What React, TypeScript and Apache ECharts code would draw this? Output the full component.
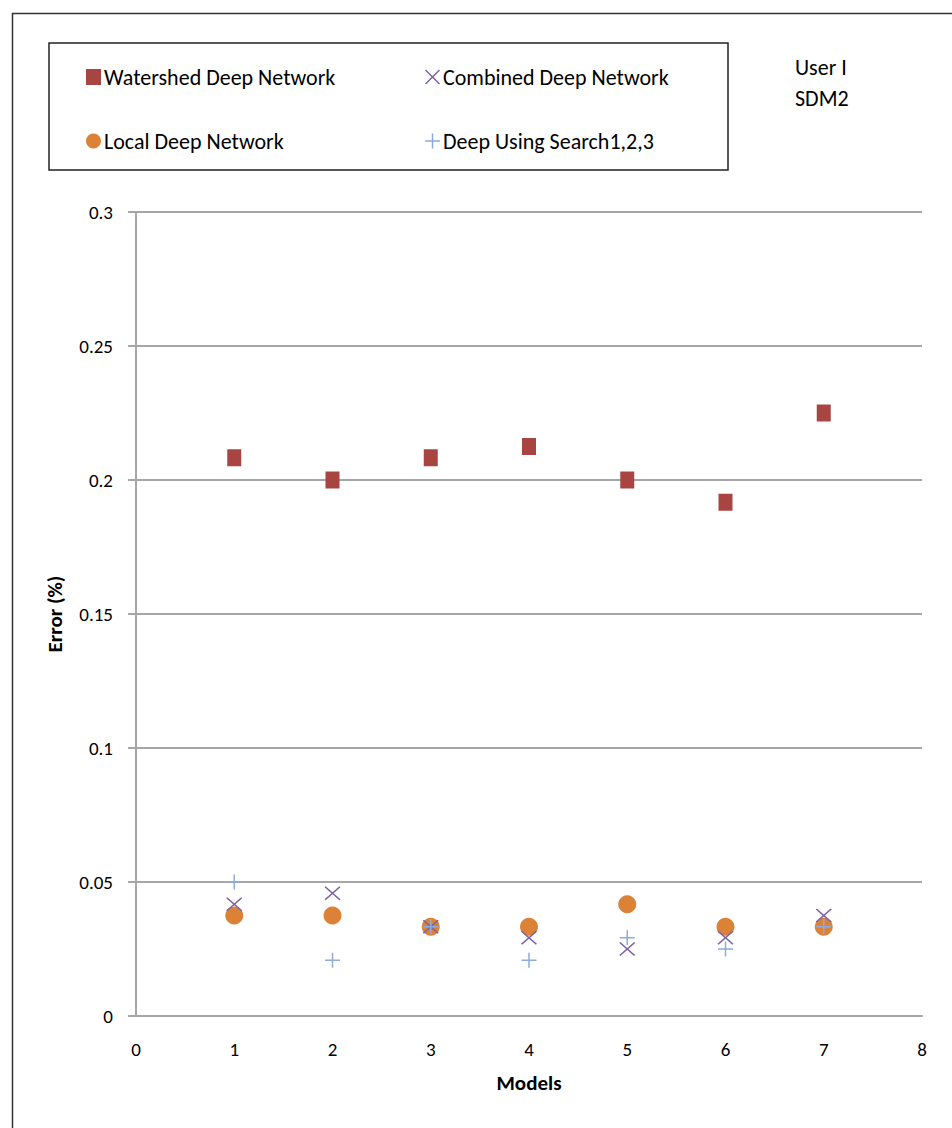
import React, { useEffect, useRef } from "react";
import * as echarts from "echarts";

const models = [1, 2, 3, 4, 5, 6, 7];
const watershed = [0.2083, 0.2, 0.2083, 0.2125, 0.2, 0.1917, 0.225];
const combined = [0.0417, 0.0458, 0.0333, 0.0292, 0.025, 0.0292, 0.0375];
const local = [0.0375, 0.0375, 0.0333, 0.0333, 0.0417, 0.0333, 0.0333];
const search = [0.05, 0.0208, 0.0333, 0.0208, 0.0292, 0.025, 0.0333];

const xTicks = { min: 0, max: 8, interval: 1 };
const yTicks = { min: 0, max: 0.3, interval: 0.05 };

const FONT = "Carlito, Lato, sans-serif";
const X_PATH =
  "path://M0,7L7,0L50,43L93,0L100,7L57,50L100,93L93,100L50,57L7,100L0,93L43,50Z";
const PLUS_PATH =
  "path://M45,0L55,0L55,45L100,45L100,55L55,55L55,100L45,100L45,55L0,55L0,45L45,45Z";

const pairs = (ys: number[]) => models.map((m, i) => [m, ys[i]]);

export default function App() {
  const ref = useRef<HTMLDivElement>(null);
  useEffect(() => {
    if (!ref.current) return;
    const chart = echarts.init(ref.current, null, { renderer: "svg" });
    const gridColor = "#a6a6a6";
    const legendText = {
      fontFamily: FONT,
      fontSize: 22,
      lineHeight: 16,
      color: "#000",
      padding: [0, 0, 0, -2],
    };
    chart.setOption({
      animation: false,
      backgroundColor: "#ffffff",
      textStyle: { fontFamily: FONT },
      grid: { left: 136, right: 30, top: 212, bottom: 112, containLabel: false },
      xAxis: {
        type: "value",
        ...xTicks,
        name: "Models",
        nameLocation: "middle",
        nameGap: 56,
        nameTextStyle: { fontFamily: FONT, fontSize: 21, fontWeight: "bold", color: "#000" },
        axisLine: { show: true, lineStyle: { color: gridColor, width: 2 } },
        axisTick: { show: false },
        splitLine: { show: false },
        axisLabel: { fontFamily: FONT, fontSize: 19, color: "#000", margin: 24 },
      },
      yAxis: {
        type: "value",
        ...yTicks,
        name: "Error (%)",
        nameLocation: "middle",
        nameGap: 71,
        nameTextStyle: { fontFamily: FONT, fontSize: 21, fontWeight: "bold", color: "#000" },
        axisLine: { show: true, lineStyle: { color: gridColor, width: 2 } },
        axisTick: { show: true, length: 8, lineStyle: { color: gridColor, width: 2 } },
        splitLine: { show: true, lineStyle: { color: gridColor, width: 2 } },
        axisLabel: { fontFamily: FONT, fontSize: 19, color: "#000", margin: 23 },
      },
      legend: [
        {
          data: ["Watershed Deep Network", "Local Deep Network"],
          orient: "vertical",
          left: 86,
          top: 66,
          padding: 0,
          itemWidth: 15,
          itemHeight: 16,
          itemGap: 42,
          textStyle: legendText,
        },
        {
          data: ["Combined Deep Network", "Deep Using Search1,2,3"],
          orient: "vertical",
          left: 425,
          top: 66,
          padding: 0,
          itemWidth: 15,
          itemHeight: 16,
          itemGap: 42,
          textStyle: legendText,
        },
      ],
      series: [
        {
          name: "Watershed Deep Network",
          type: "scatter",
          symbol: "rect",
          symbolSize: [14, 17],
          itemStyle: { color: "#a84442", opacity: 1 },
          data: pairs(watershed),
        },
        {
          name: "Local Deep Network",
          type: "scatter",
          symbol: "circle",
          symbolSize: 18,
          itemStyle: { color: "#dc8236", opacity: 1 },
          data: pairs(local),
        },
        {
          name: "Combined Deep Network",
          type: "scatter",
          symbol: X_PATH,
          symbolSize: [16, 14],
          itemStyle: { color: "#7e62a0", opacity: 1 },
          data: pairs(combined),
        },
        {
          name: "Deep Using Search1,2,3",
          type: "scatter",
          symbol: PLUS_PATH,
          symbolSize: 15,
          itemStyle: { color: "#8faadc", opacity: 1 },
          data: pairs(search),
        },
      ],
      graphic: [
        {
          type: "rect",
          left: 10,
          top: 11,
          shape: { x: 0, y: 0, width: 1000, height: 1200 },
          style: { fill: "none", stroke: "#333", lineWidth: 1.5 },
          silent: true,
          z: -1,
        },
        {
          type: "rect",
          shape: { x: 49, y: 43, width: 679, height: 127 },
          style: { fill: "none", stroke: "#222", lineWidth: 1.5 },
          silent: true,
        },
        {
          type: "text",
          x: 795,
          y: 56,
          style: { text: "User I", fontFamily: FONT, fontSize: 22, fill: "#000" },
        },
        {
          type: "text",
          x: 795,
          y: 87,
          style: { text: "SDM2", fontFamily: FONT, fontSize: 22, fill: "#000" },
        },
      ],
    });
    return () => chart.dispose();
  }, []);
  return (
    <div
      ref={ref}
      style={{ position: "fixed", left: 0, top: 0, width: 952, height: 1128 }}
    />
  );
}
